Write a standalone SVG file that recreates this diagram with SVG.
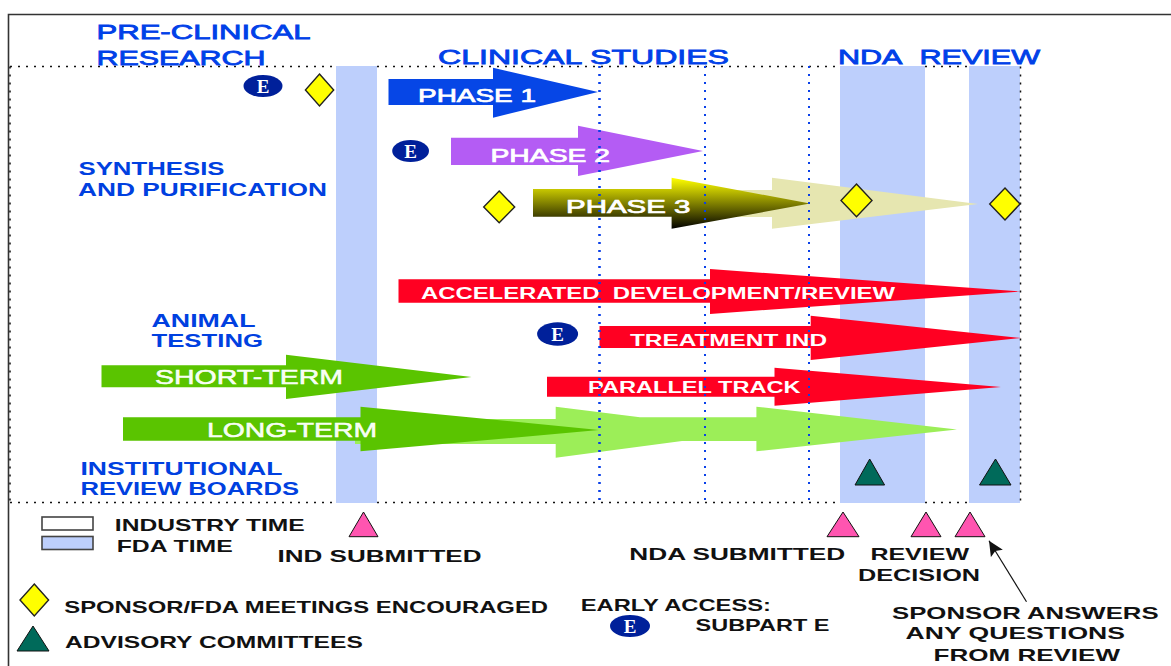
<svg xmlns="http://www.w3.org/2000/svg" width="1171" height="666" viewBox="0 0 1171 666">
<style>
text{font-family:"Liberation Sans",Arial,sans-serif;font-weight:bold}
.h{fill:#0040e8;font-size:21px;font-weight:normal;stroke:#0040e8;stroke-width:.8px}
.s{fill:#0040e0;font-size:18px}
.w{fill:#fff;font-size:19px;font-weight:normal;stroke:#fff;stroke-width:.7px}
.r{fill:#fff;font-size:16px}
.g{fill:#f4fff0;font-size:21px;font-weight:normal;stroke:#fff;stroke-width:.5px}
.k{fill:#111;font-size:16.5px}
.band{fill:#bdcffc}
.dia{fill:#ffff00;stroke:#222;stroke-width:1.4}
.tri{fill:#006a5a;stroke:#111;stroke-width:1}
.pink{fill:#ff55b0;stroke:#111;stroke-width:1}
.ell{fill:#00209a}
.e{fill:#fff;font-family:"Liberation Serif",serif;font-size:19px;text-anchor:middle}
.red{fill:#ff0022}
.grn{fill:#5ac400}
.lg{fill:#9cee58}
.bd{fill:none;stroke:#111;stroke-width:1.5;stroke-dasharray:2 6}
.vd{fill:none;stroke:#0a40e8;stroke-width:2;stroke-dasharray:2 6}
</style>
<defs>
<linearGradient id="ph3r" gradientUnits="userSpaceOnUse" x1="0" y1="178" x2="0" y2="229"><stop offset="0" stop-color="#ffff00"/><stop offset="1" stop-color="#000"/></linearGradient>
<marker id="ah" markerUnits="userSpaceOnUse" markerWidth="16" markerHeight="18" refX="15" refY="7" orient="auto"><path d="M0 0L15 7L0 14L3 7Z" fill="#111"/></marker>
</defs>
<rect width="1171" height="666" fill="#fff"/>
<g id="frame">
<path d="M8.5 666V14.5H1171" fill="none" stroke="#333" stroke-width="1.6"/>
<rect class="band" x="336" y="66" width="41" height="437"/>
<rect class="band" x="840" y="66" width="85" height="437"/>
<rect class="band" x="969" y="66" width="51" height="437"/>
<path class="bd" d="M10 66.5H336M377 66.5H840M925 66.5H969M10 502.5H336M377 502.5H840M925 502.5H969M10 66.5V502.5M1020.5 66.5V502.5"/>
</g>
<g id="arrow-phase1"><polygon fill="#0646e6" points="388.5,79 493,79 493,67.7 598,92 493,117.7 493,105 388.5,105"/><text class="w" x="418" y="102" textLength="118" lengthAdjust="spacingAndGlyphs">PHASE 1</text></g>
<g id="arrow-phase2"><polygon fill="#b45cf4" points="451,137.7 578,137.7 578,125.7 703,151 578,176 578,165 451,165"/><text class="w" x="490.5" y="162" textLength="119.5" lengthAdjust="spacingAndGlyphs">PHASE 2</text></g>
<g id="arrow-phase3-ext"><polygon fill="#e6e6b0" points="700,190 772,190 772,177.7 978,204 772,228.7 772,217 700,217"/></g>
<g id="arrow-phase3"><polygon fill="url(#ph3r)" points="533,189 671.6,189 671.6,177.7 810,203.5 671.6,228.7 671.6,216.7 533,216.7"/><text class="w" x="566" y="213" textLength="124.5" lengthAdjust="spacingAndGlyphs">PHASE 3</text></g>
<g id="arrow-accelerated"><polygon class="red" points="398.5,279.3 710,279.3 710,269 1021,291.5 710,314 710,302.7 398.5,302.7"/><text class="r" x="421" y="299" textLength="474" lengthAdjust="spacingAndGlyphs">ACCELERATED&#160; DEVELOPMENT/REVIEW</text></g>
<g id="arrow-treatment"><polygon class="red" points="599.5,326 810.7,326 810.7,315.7 1021,338 810.7,360 810.7,348 599.5,348"/><text class="r" x="630" y="345.7" textLength="197" lengthAdjust="spacingAndGlyphs">TREATMENT IND</text></g>
<g id="arrow-parallel"><polygon class="red" points="547,376.7 774.5,376.7 774.5,367.7 1001,387 774.5,405.7 774.5,396.7 547,396.7"/><text class="r" x="588" y="393.3" textLength="212.5" lengthAdjust="spacingAndGlyphs">PARALLEL TRACK</text></g>
<g id="arrow-short-term"><polygon class="grn" points="101.5,365.3 286,365.3 286,354.7 471.5,377 286,399 286,387.3 101.5,387.3"/><text class="g" x="155" y="384.3" textLength="188" lengthAdjust="spacingAndGlyphs">SHORT-TERM</text></g>
<g id="arrow-long-term-ext">
<polygon class="lg" points="355,419 555.7,419 555.7,406.7 640,417.3 756.4,417.3 756.4,406.7 957,429.5 756.4,451.3 756.4,441 682,441 555.7,457.7 555.7,444 355,444"/>
</g>
<g id="arrow-long-term"><polygon class="grn" points="123,417.3 360.5,417.3 360.5,406.7 599,430 360.5,451.3 360.5,440.7 123,440.7"/><text class="g" x="207" y="436.7" textLength="170" lengthAdjust="spacingAndGlyphs">LONG-TERM</text></g>
<g id="dividers">
<path class="vd" d="M599.5 66V502" style="stroke-width:2.6"/>
<path class="vd" d="M705 66V502"/>
<path class="vd" d="M809 66V502"/>
</g>
<g id="header-preclinical"><text class="h" x="96.5" y="38.5" textLength="214" lengthAdjust="spacingAndGlyphs">PRE-CLINICAL</text><text class="h" x="96.5" y="64.5" textLength="169" lengthAdjust="spacingAndGlyphs">RESEARCH</text></g>
<g id="header-clinical"><text class="h" x="438" y="63.5" textLength="291" lengthAdjust="spacingAndGlyphs">CLINICAL STUDIES</text></g>
<g id="header-nda"><text class="h" x="838" y="63.5" textLength="202" lengthAdjust="spacingAndGlyphs">NDA&#160; REVIEW</text></g>
<g id="label-synthesis"><text class="s" x="78.5" y="175.3" textLength="146" lengthAdjust="spacingAndGlyphs">SYNTHESIS</text><text class="s" x="78" y="196" textLength="249" lengthAdjust="spacingAndGlyphs">AND PURIFICATION</text></g>
<g id="label-animal"><text class="s" x="151.5" y="326.7" textLength="104" lengthAdjust="spacingAndGlyphs">ANIMAL</text><text class="s" x="151.5" y="347" textLength="111.5" lengthAdjust="spacingAndGlyphs">TESTING</text></g>
<g id="label-irb"><text class="s" x="80.5" y="474.7" textLength="202" lengthAdjust="spacingAndGlyphs">INSTITUTIONAL</text><text class="s" x="80.5" y="495.3" textLength="218.5" lengthAdjust="spacingAndGlyphs">REVIEW BOARDS</text></g>
<g id="e-1"><ellipse class="ell" cx="263" cy="86" rx="19.5" ry="11"/><text class="e" x="263" y="92.5">E</text></g>
<g id="e-2"><ellipse class="ell" cx="410.6" cy="151" rx="18.4" ry="11"/><text class="e" x="410.6" y="157.5">E</text></g>
<g id="e-3"><ellipse class="ell" cx="557.6" cy="334" rx="20.5" ry="11.7"/><text class="e" x="557.6" y="340.5">E</text></g>
<g id="diamond-1"><polygon class="dia" points="319.5,74 333.7,90 319.5,106 305.4,90"/></g>
<g id="diamond-2"><polygon class="dia" points="499.2,191 514.7,207 499.2,222.7 483.7,207"/></g>
<g id="diamond-3"><polygon class="dia" points="856.5,184 872,200.5 856.5,216.7 841,200.5"/></g>
<g id="diamond-4"><polygon class="dia" points="1005,188 1020,204 1005,220 989.7,204"/></g>
<g id="advisory-1"><polygon class="tri" points="869.7,459 884.6,485 855,485"/></g>
<g id="advisory-2"><polygon class="tri" points="995.5,459 1011,485 979.5,485"/></g>
<g id="ind-submitted"><polygon class="pink" points="363.5,512 378,536.7 349,536.7"/><text class="k" x="277.5" y="562" textLength="204" lengthAdjust="spacingAndGlyphs">IND SUBMITTED</text></g>
<g id="nda-submitted"><polygon class="pink" points="843,512 859,536.7 827,536.7"/><text class="k" x="629.3" y="560.3" textLength="216" lengthAdjust="spacingAndGlyphs">NDA SUBMITTED</text></g>
<g id="review-decision"><polygon class="pink" points="926,512 941,536.7 911,536.7"/><text class="k" x="870.4" y="560.3" textLength="98.6" lengthAdjust="spacingAndGlyphs">REVIEW</text><text class="k" x="858" y="581" textLength="122" lengthAdjust="spacingAndGlyphs">DECISION</text></g>
<g id="sponsor-answers"><polygon class="pink" points="970,512 985,536.7 955,536.7"/><text class="k" x="892" y="619" textLength="266.6" lengthAdjust="spacingAndGlyphs">SPONSOR ANSWERS</text><text class="k" x="905.6" y="639.3" textLength="219.4" lengthAdjust="spacingAndGlyphs">ANY QUESTIONS</text><text class="k" x="933.6" y="661.3" textLength="186.4" lengthAdjust="spacingAndGlyphs">FROM REVIEW</text></g>
<g id="connectors"><line x1="1026.5" y1="601.7" x2="989" y2="540.7" stroke="#111" stroke-width="1.2" marker-end="url(#ah)"/></g>
<g id="legend-industry"><rect x="42" y="517" width="51" height="13" fill="#fff" stroke="#444" stroke-width="1.6"/><text class="k" x="114.8" y="530.7" textLength="190" lengthAdjust="spacingAndGlyphs">INDUSTRY TIME</text></g>
<g id="legend-fda"><rect x="42" y="536.5" width="51" height="13" fill="#bdcffc" stroke="#444" stroke-width="1.6"/><text class="k" x="116.7" y="552.3" textLength="116" lengthAdjust="spacingAndGlyphs">FDA TIME</text></g>
<g id="legend-meetings"><polygon class="dia" points="34.3,584 48.6,600 34.3,616 20,600"/><text class="k" x="64.3" y="612.7" textLength="483.7" lengthAdjust="spacingAndGlyphs">SPONSOR/FDA MEETINGS ENCOURAGED</text></g>
<g id="legend-advisory"><polygon class="tri" points="33,626 49,651 17,651"/><text class="k" x="65" y="647.7" textLength="297.8" lengthAdjust="spacingAndGlyphs">ADVISORY COMMITTEES</text></g>
<g id="legend-early"><text class="k" x="580.7" y="611" textLength="190.3" lengthAdjust="spacingAndGlyphs">EARLY ACCESS:</text><ellipse class="ell" cx="630" cy="626" rx="20" ry="11"/><text class="e" x="630" y="632.5">E</text><text class="k" x="695.5" y="630.7" textLength="134" lengthAdjust="spacingAndGlyphs">SUBPART E</text></g>
</svg>
